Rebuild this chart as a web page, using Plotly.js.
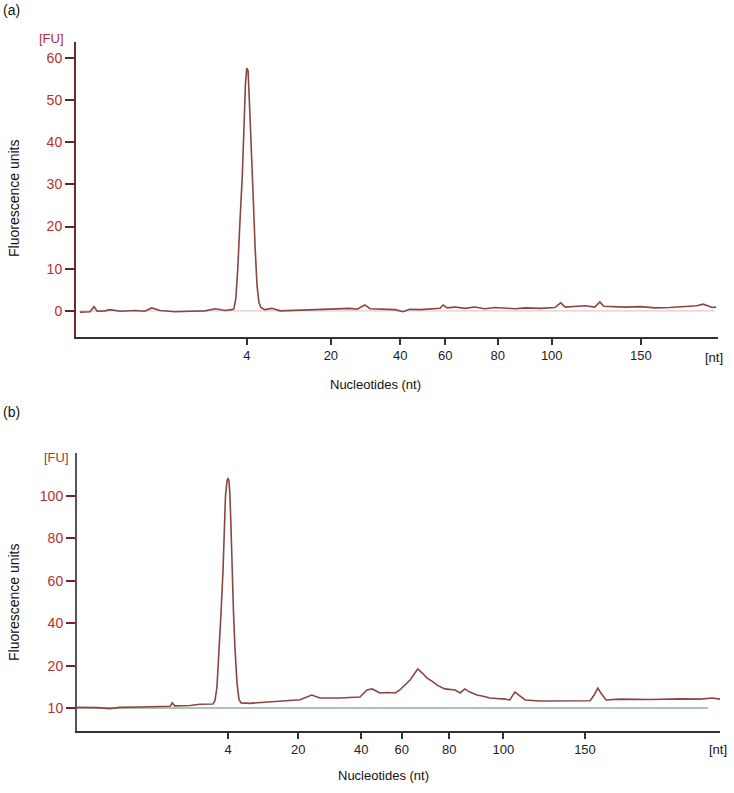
<!DOCTYPE html>
<html>
<head>
<meta charset="utf-8">
<script src="https://cdn.plot.ly/plotly-3.0.1.min.js"></script>
<style>html,body{margin:0;padding:0;background:#fff}#chart{width:734px;height:793px}</style>
</head>
<body>
<div id="chart"></div>
<script>
// Electropherograms: x = migration position (arbitrary units, 0..100 across the axis), y = FU
const aPos = [0.6,2.2,2.8,3.3,4.5,5.3,6.9,9.2,10.7,11.8,13.1,15.4,17.8,20.1,21.7,23.2,24.3,24.6,24.9,25.2,25.5,25.9,26.2,26.4,26.6,26.8,27.0,27.3,27.6,27.9,28.2,28.5,28.8,29.4,30.5,31.8,34.1,36.4,38.8,41.1,42.7,43.8,45.0,45.8,48.1,49.7,50.9,52.0,53.6,55.1,56.7,57.2,57.8,59.0,60.6,62.1,63.7,65.3,66.8,68.4,70.0,72.3,74.6,75.5,76.2,77.7,79.3,80.8,81.6,82.2,84.0,85.5,87.9,90.2,92.5,94.9,96.7,97.7,98.3,99.1,99.7];
const aFU = [-0.3,-0.2,1.0,-0.1,0.0,0.3,-0.1,0.1,-0.1,0.7,0.1,-0.2,-0.1,0.0,0.5,0.1,0.3,0.5,3,10,20,32,45,54,57.6,57,50,40,27,15,6,2,0.8,0.3,0.6,0.0,0.1,0.2,0.3,0.4,0.6,0.4,1.4,0.5,0.4,0.3,-0.2,0.4,0.3,0.4,0.6,1.4,0.7,0.9,0.6,0.9,0.5,0.8,0.6,0.5,0.7,0.6,0.8,1.9,0.9,1.0,1.2,0.9,2.1,1.1,1.0,0.9,1.0,0.7,0.8,1.0,1.2,1.6,1.2,0.8,0.9];
const aTickPos = [26.6,39.7,50.5,57.5,65.7,74.1,88.0];
const aTickText = ["4","20","40","60","80","100","150"];
const aYTicks = [0,10,20,30,40,50,60];

const bPos = [0.0,3.1,5.1,6.7,9.8,12.9,14.5,14.8,15.2,17.6,19.1,21.15,21.46,21.77,22.08,22.40,22.71,22.94,23.09,23.33,23.48,23.64,23.79,23.95,24.11,24.34,24.57,24.88,25.19,25.51,26.9,30.0,32.7,34.7,36.5,37.8,40.9,44.0,45.1,45.9,47.1,48.2,49.5,50.2,51.8,52.6,53.0,53.7,54.4,55.2,56.0,57.2,58.8,59.6,60.3,61.1,62.2,63.0,64.2,66.6,67.3,68.1,68.9,69.7,72.0,75.1,78.2,79.8,80.4,81.0,81.6,82.3,84.4,89.1,93.8,96.9,98.8,100.0];
const bFU = [0.3,0.2,-0.3,0.3,0.5,0.7,0.8,2.4,1.0,1.2,1.8,1.9,3.5,10,25,45,65,85,100,107,108.5,107,100,85,65,45,28,12,4,2.4,2.2,2.8,3.3,3.9,6.1,4.7,4.7,5.2,8.5,9.0,7.1,7.3,7.1,8.5,13.2,17.0,18.4,16.5,14.2,12.7,10.8,9.0,8.5,7.1,9.0,7.5,6.1,5.7,4.7,4.2,3.8,7.5,5.7,3.8,3.3,3.4,3.3,3.4,6,9.4,6.5,3.8,4.2,4.0,4.3,4.2,4.7,4.2];
const bTickPos = [23.5,34.4,44.2,50.5,57.9,66.3,79.0];
const bTickText = ["4","20","40","60","80","100","150"];
const bYTicks = [0,20,40,60,80,100];
const bYText = ["10","20","40","60","80","100"];

const unitX = "[nt]", unitY = "[FU]";
const FONT = "Liberation Sans, Arial, sans-serif";
const RED = "#b5302d", TRACE = "#8a4545";

const traces = [
  {x:[0.5,99.5], y:[0,0], xaxis:"x", yaxis:"y", mode:"lines", line:{color:"#e3c9c9",width:1.2}, hoverinfo:"skip"},
  {x:aPos, y:aFU, xaxis:"x", yaxis:"y", mode:"lines", line:{color:TRACE,width:1.6}},
  {x:[0,98.1], y:[0,0], xaxis:"x2", yaxis:"y2", mode:"lines", line:{color:"#8fb59a",width:1.4}, hoverinfo:"skip"},
  {x:bPos, y:bFU, xaxis:"x2", yaxis:"y2", mode:"lines", line:{color:TRACE,width:1.6}}
];

const xBase = {range:[0,100], showgrid:false, zeroline:false, showline:true, linecolor:"#333", linewidth:1.6,
  ticks:"outside", ticklen:6, tickwidth:2, tickcolor:"#333", tickfont:{family:FONT,size:13,color:"#222"}, tickmode:"array"};
const yBase = {showgrid:false, zeroline:false, showline:true, linewidth:2,
  ticks:"outside", ticklen:9, tickwidth:2, tickfont:{family:FONT,size:14,color:RED}, tickmode:"array"};

const P = (px,py)=>({x:px/734, y:1-py/793});
function ann(text,px,py,o){const p=P(px,py);return Object.assign({text,x:p.x,y:p.y,xref:"paper",yref:"paper",showarrow:false,
  xanchor:"center",yanchor:"middle",font:{family:FONT,size:13,color:"#111"}},o||{});}

const layout = {
  width:734, height:793, margin:{l:0,r:0,t:0,b:0}, paper_bgcolor:"#fff", plot_bgcolor:"#fff", showlegend:false,
  xaxis:Object.assign({}, xBase, {domain:[76/734,718/734], anchor:"y", tickvals:aTickPos, ticktext:aTickText}),
  yaxis:Object.assign({}, yBase, {domain:[1-337/793,1-42/793], anchor:"x", range:[-6.2,63.8], tickvals:aYTicks,
    linecolor:"#6e2b2b", tickcolor:"#5a2a2a"}),
  xaxis2:Object.assign({}, xBase, {domain:[77/734,720/734], anchor:"y2", tickvals:bTickPos, ticktext:bTickText}),
  yaxis2:Object.assign({}, yBase, {domain:[1-731/793,1-453/793], anchor:"x2", range:[-10.85,120.3], tickvals:bYTicks, ticktext:bYText,
    linecolor:"#555", tickcolor:"#7a2020"}),
  annotations:[
    ann("(a)",12,10,{font:{family:FONT,size:14,color:"#111"}}),
    ann("(b)",12,412,{font:{family:FONT,size:14,color:"#111"}}),
    ann(unitY,51,38,{font:{family:FONT,size:13,color:RED}}),
    ann(unitY,56,457,{font:{family:FONT,size:13,color:RED}}),
    ann("Fluorescence units",14,198,{textangle:-90,font:{family:FONT,size:14,color:"#111"}}),
    ann("Fluorescence units",14,602,{textangle:-90,font:{family:FONT,size:14,color:"#111"}}),
    ann("Nucleotides (nt)",375,384),
    ann("Nucleotides (nt)",383,775),
    ann(unitX,714,357),
    ann(unitX,718,749)
  ]
};

Plotly.newPlot("chart", traces, layout, {displayModeBar:false, staticPlot:true});
</script>
</body>
</html>
